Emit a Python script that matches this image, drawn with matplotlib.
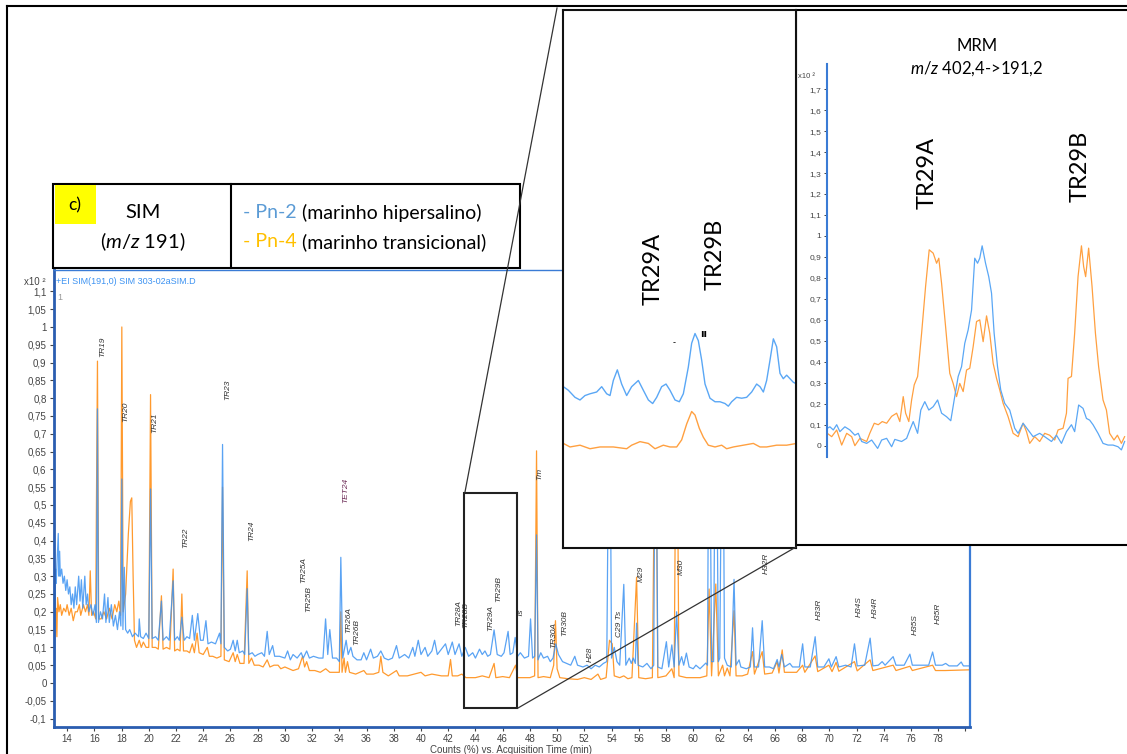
import matplotlib.pyplot as plt
from matplotlib.patches import Rectangle
from matplotlib.lines import Line2D
import numpy as np

plt.rcParams['mathtext.fontset'] = 'custom'
plt.rcParams['mathtext.rm'] = 'Lato'
plt.rcParams['mathtext.it'] = 'Lato:italic'

W, H = 1127, 754
BLUE = '#3d93f2'
ORANGE = '#ff9a2e'

# SIM m/z 191 chromatogram (time in min, counts x10^2)
pn2_sim = [
    (13.08, 0.0), (13.15, 0.32), (13.2, 0.28), (13.25, 0.33), (13.35, 0.42), (13.4, 0.3), (13.45, 0.37),
    (13.5, 0.3), (13.6, 0.32), (13.7, 0.28), (13.8, 0.3), (13.9, 0.26), (14.0, 0.29), (14.1, 0.25),
    (14.2, 0.27), (14.3, 0.22), (14.4, 0.25), (14.5, 0.21), (14.6, 0.27), (14.7, 0.22), (14.85, 0.3),
    (14.95, 0.23), (15.05, 0.29), (15.15, 0.21), (15.3, 0.3), (15.4, 0.22), (15.5, 0.25), (15.6, 0.2),
    (15.75, 0.22), (15.9, 0.19), (16.05, 0.22), (16.15, 0.17), (16.23, 0.77), (16.3, 0.17), (16.45, 0.2),
    (16.6, 0.18), (16.75, 0.25), (16.85, 0.17), (17.0, 0.24), (17.1, 0.17), (17.25, 0.22), (17.4, 0.16),
    (17.55, 0.19), (17.7, 0.15), (17.85, 0.2), (17.95, 0.16), (18.02, 0.573), (18.1, 0.15), (18.2, 0.325),
    (18.3, 0.15), (18.45, 0.14), (18.6, 0.15), (18.8, 0.13), (19.0, 0.14), (19.25, 0.13), (19.3, 0.18),
    (19.4, 0.13), (19.6, 0.125), (19.8, 0.14), (20.0, 0.125), (20.13, 0.545), (20.25, 0.125), (20.5, 0.13),
    (20.7, 0.12), (20.93, 0.23), (21.05, 0.12), (21.3, 0.13), (21.5, 0.12), (21.79, 0.287), (21.9, 0.12),
    (22.1, 0.13), (22.25, 0.12), (22.43, 0.185), (22.6, 0.12), (22.8, 0.13), (23.0, 0.125), (23.2, 0.19),
    (23.35, 0.12), (23.6, 0.195), (23.8, 0.12), (24.0, 0.12), (24.2, 0.175), (24.35, 0.11), (24.6, 0.115),
    (24.9, 0.11), (25.2, 0.14), (25.3, 0.11), (25.42, 0.67), (25.55, 0.1), (25.8, 0.09), (26.0, 0.095),
    (26.2, 0.12), (26.35, 0.09), (26.5, 0.12), (26.65, 0.085), (26.9, 0.09), (27.05, 0.08), (27.23, 0.265),
    (27.35, 0.08), (27.6, 0.085), (27.8, 0.075), (28.0, 0.08), (28.3, 0.085), (28.5, 0.075), (28.7, 0.145),
    (28.85, 0.08), (29.1, 0.105), (29.25, 0.075), (29.6, 0.075), (30.0, 0.07), (30.2, 0.09), (30.4, 0.065),
    (30.6, 0.08), (30.9, 0.07), (31.2, 0.085), (31.35, 0.07), (31.6, 0.09), (31.8, 0.07), (32.1, 0.075),
    (32.5, 0.07), (32.8, 0.07), (32.99, 0.18), (33.15, 0.08), (33.3, 0.15), (33.5, 0.07), (33.8, 0.07),
    (34.0, 0.06), (34.11, 0.353), (34.25, 0.07), (34.5, 0.12), (34.65, 0.08), (34.85, 0.1), (35.0, 0.075),
    (35.3, 0.065), (35.6, 0.065), (35.8, 0.085), (36.0, 0.065), (36.3, 0.095), (36.5, 0.07), (36.8, 0.075),
    (37.05, 0.09), (37.3, 0.07), (37.6, 0.065), (37.9, 0.07), (38.2, 0.105), (38.4, 0.07), (38.8, 0.08),
    (39.1, 0.07), (39.4, 0.1), (39.55, 0.075), (39.8, 0.12), (40.0, 0.08), (40.3, 0.1), (40.5, 0.075),
    (40.8, 0.09), (41.0, 0.12), (41.2, 0.08), (41.5, 0.095), (41.8, 0.11), (42.0, 0.08), (42.3, 0.115),
    (42.5, 0.08), (42.8, 0.11), (43.0, 0.075), (43.25, 0.1), (43.5, 0.075), (43.8, 0.085), (44.0, 0.07),
    (44.3, 0.095), (44.5, 0.08), (44.7, 0.09), (44.9, 0.075), (45.1, 0.08), (45.37, 0.149), (45.6, 0.08),
    (45.9, 0.075), (46.1, 0.085), (46.4, 0.145), (46.55, 0.08), (46.75, 0.085), (46.92, 0.128), (47.1, 0.075),
    (47.3, 0.085), (47.6, 0.07), (47.9, 0.075), (48.05, 0.18), (48.2, 0.07), (48.35, 0.075), (48.49, 0.416),
    (48.6, 0.065), (48.8, 0.085), (49.0, 0.07), (49.3, 0.075), (49.5, 0.06), (49.7, 0.07), (49.9, 0.11),
    (50.1, 0.08), (50.4, 0.06), (50.7, 0.055), (51.0, 0.05), (51.3, 0.075), (51.5, 0.05), (51.9, 0.045),
    (52.2, 0.05), (52.5, 0.04), (52.8, 0.05), (53.1, 0.045), (53.4, 0.055), (53.65, 0.06), (53.85, 1.0),
    (54.0, 0.07), (54.2, 0.1), (54.4, 0.06), (54.6, 0.05), (54.9, 0.277), (55.05, 0.05), (55.3, 0.07),
    (55.45, 0.055), (55.6, 0.07), (55.75, 0.055), (55.84, 0.168), (55.95, 0.05), (56.3, 0.045), (56.6, 0.055),
    (56.9, 0.04), (57.1, 0.05), (57.23, 1.0), (57.4, 0.045), (57.7, 0.04), (58.03, 0.116), (58.2, 0.045),
    (58.43, 0.107), (58.6, 0.045), (58.78, 0.2), (58.95, 0.05), (59.15, 0.074), (59.3, 0.05), (59.5, 0.084),
    (59.7, 0.045), (60.0, 0.04), (60.2, 0.05), (60.5, 0.04), (60.93, 0.056), (61.05, 0.05), (61.17, 1.0),
    (61.35, 0.06), (61.5, 0.06), (61.66, 1.0), (61.85, 0.06), (61.95, 0.07), (62.16, 1.0), (62.3, 0.07),
    (62.5, 0.05), (62.8, 0.045), (63.0, 0.291), (63.15, 0.05), (63.37, 0.065), (63.5, 0.045), (63.9, 0.04),
    (64.2, 0.045), (64.36, 0.155), (64.5, 0.045), (64.8, 0.045), (65.07, 0.175), (65.25, 0.045), (65.6, 0.045),
    (65.9, 0.04), (66.17, 0.066), (66.3, 0.045), (66.5, 0.08), (66.7, 0.045), (67.1, 0.055), (67.3, 0.045),
    (67.8, 0.045), (68.04, 0.11), (68.2, 0.045), (68.6, 0.045), (68.96, 0.13), (69.15, 0.045), (69.6, 0.045),
    (69.97, 0.068), (70.15, 0.045), (70.5, 0.074), (70.7, 0.045), (71.2, 0.05), (71.6, 0.045), (71.85, 0.11),
    (72.05, 0.048), (72.6, 0.05), (73.0, 0.126), (73.2, 0.048), (73.6, 0.05), (73.88, 0.06), (74.1, 0.05),
    (74.69, 0.074), (74.9, 0.05), (75.5, 0.05), (75.92, 0.081), (76.1, 0.05), (76.8, 0.05), (77.3, 0.05),
    (77.59, 0.087), (77.8, 0.05), (78.3, 0.05), (78.55, 0.055), (78.8, 0.048), (79.4, 0.048), (79.69, 0.059),
    (79.85, 0.048), (80.3, 0.048),
]

pn4_sim = [
    (13.1, 0.2), (13.18, 0.21), (13.25, 0.13), (13.3, 0.24), (13.4, 0.2), (13.5, 0.22), (13.6, 0.19),
    (13.75, 0.21), (13.9, 0.2), (14.0, 0.22), (14.15, 0.19), (14.3, 0.21), (14.45, 0.175), (14.6, 0.2),
    (14.75, 0.2), (14.9, 0.22), (15.0, 0.19), (15.2, 0.22), (15.35, 0.2), (15.5, 0.22), (15.6, 0.19),
    (15.7, 0.315), (15.8, 0.19), (15.95, 0.2), (16.1, 0.18), (16.15, 0.48), (16.23, 0.904), (16.32, 0.18),
    (16.5, 0.18), (16.7, 0.2), (16.9, 0.18), (17.1, 0.21), (17.3, 0.18), (17.5, 0.22), (17.65, 0.2),
    (17.8, 0.23), (17.93, 0.19), (18.02, 1.0), (18.12, 0.2), (18.3, 0.25), (18.5, 0.42), (18.65, 0.51),
    (18.75, 0.52), (18.85, 0.3), (18.95, 0.12), (19.1, 0.1), (19.3, 0.12), (19.45, 0.1), (19.6, 0.115),
    (19.8, 0.1), (20.0, 0.1), (20.13, 0.81), (20.25, 0.1), (20.5, 0.1), (20.7, 0.095), (20.93, 0.245),
    (21.05, 0.095), (21.3, 0.1), (21.55, 0.095), (21.79, 0.32), (21.9, 0.09), (22.1, 0.095), (22.3, 0.09),
    (22.43, 0.25), (22.55, 0.09), (22.8, 0.09), (23.0, 0.085), (23.2, 0.11), (23.35, 0.085), (23.55, 0.14),
    (23.7, 0.085), (24.0, 0.08), (24.3, 0.1), (24.45, 0.075), (24.7, 0.075), (25.0, 0.07), (25.3, 0.075),
    (25.42, 0.55), (25.55, 0.065), (25.9, 0.06), (26.2, 0.085), (26.35, 0.06), (26.5, 0.08), (26.7, 0.055),
    (27.0, 0.055), (27.23, 0.315), (27.35, 0.055), (27.55, 0.07), (27.75, 0.05), (28.1, 0.05), (28.4, 0.045),
    (28.7, 0.065), (28.9, 0.045), (29.2, 0.05), (29.5, 0.05), (29.7, 0.04), (30.0, 0.045), (30.3, 0.04),
    (30.6, 0.035), (31.0, 0.04), (31.3, 0.075), (31.45, 0.045), (31.6, 0.06), (31.8, 0.035), (32.2, 0.035),
    (32.6, 0.03), (33.0, 0.04), (33.3, 0.03), (33.8, 0.03), (34.0, 0.03), (34.11, 0.2), (34.2, 0.03),
    (34.35, 0.07), (34.45, 0.03), (34.6, 0.06), (34.75, 0.03), (35.2, 0.025), (35.8, 0.035), (36.0, 0.025),
    (36.5, 0.025), (36.9, 0.03), (37.05, 0.075), (37.2, 0.03), (37.6, 0.02), (38.2, 0.035), (38.4, 0.02),
    (39.0, 0.02), (39.5, 0.025), (40.0, 0.03), (40.3, 0.02), (40.8, 0.025), (41.5, 0.02), (42.0, 0.02),
    (42.17, 0.066), (42.3, 0.02), (42.7, 0.02), (43.0, 0.025), (43.3, 0.015), (44.0, 0.015), (44.5, 0.02),
    (45.0, 0.015), (45.37, 0.055), (45.5, 0.015), (46.0, 0.018), (46.5, 0.015), (46.95, 0.05), (47.1, 0.015),
    (47.6, 0.015), (48.0, 0.015), (48.35, 0.02), (48.49, 0.652), (48.6, 0.015), (49.0, 0.018), (49.5, 0.015),
    (49.75, 0.05), (49.88, 0.175), (50.0, 0.04), (50.2, 0.015), (50.8, 0.012), (51.5, 0.01), (52.0, 0.015),
    (52.5, 0.01), (53.0, 0.025), (53.2, 0.01), (53.6, 0.015), (53.85, 0.12), (54.05, 0.11), (54.2, 0.02),
    (54.6, 0.015), (54.9, 0.02), (55.2, 0.012), (55.5, 0.015), (55.84, 0.297), (56.0, 0.015), (56.5, 0.012),
    (57.0, 0.015), (57.23, 0.9), (57.4, 0.015), (58.0, 0.02), (58.43, 0.04), (58.6, 0.015), (58.78, 1.0),
    (58.95, 0.02), (59.5, 0.015), (60.0, 0.015), (60.5, 0.015), (61.0, 0.02), (61.17, 0.264), (61.35, 0.02),
    (61.66, 0.278), (61.85, 0.02), (62.16, 0.05), (62.3, 0.02), (62.5, 0.042), (62.7, 0.02), (63.0, 0.203),
    (63.15, 0.02), (63.6, 0.02), (64.0, 0.025), (64.36, 0.088), (64.5, 0.025), (65.07, 0.088), (65.25, 0.025),
    (65.8, 0.028), (66.17, 0.06), (66.3, 0.028), (66.54, 0.093), (66.7, 0.03), (67.2, 0.03), (67.6, 0.03),
    (68.04, 0.05), (68.2, 0.03), (68.96, 0.076), (69.15, 0.032), (69.97, 0.05), (70.2, 0.032), (70.5, 0.058),
    (70.7, 0.033), (71.85, 0.06), (72.05, 0.034), (73.0, 0.065), (73.2, 0.035), (74.69, 0.05), (74.9, 0.035),
    (75.92, 0.047), (76.1, 0.035), (77.59, 0.05), (77.8, 0.035), (78.5, 0.035), (80.3, 0.037),
]

# peak labels: name, retention time, label base height
peak_names = ['TR19', 'TR20', 'TR21', 'TR22', 'TR23', 'TR24', 'TR25A', 'TR25B', 'TET24', 'TR26A', 'TR26B',
              'TR28A', 'TR28B', 'TR29A', 'TR29B', 'Ts', 'Tm', 'TR30A', 'TR30B', 'H28', 'C29 Ts', 'M29',
              'M30', 'H32R', 'H33R', 'H34S', 'H34R', 'H35S', 'H35R']
peak_times = [16.6, 18.3, 20.45, 22.7, 25.8, 27.55, 31.4, 31.76, 34.45, 34.72, 35.28,
              42.8, 43.3, 45.1, 45.74, 47.33, 48.7, 49.76, 50.55, 52.46, 54.56, 56.2,
              59.1, 65.4, 69.25, 72.17, 73.35, 76.3, 78.0]
peak_heights = [0.915, 0.734, 0.703, 0.378, 0.795, 0.40, 0.282, 0.199, 0.505, 0.14, 0.107,
                0.16, 0.155, 0.146, 0.228, 0.185, 0.57, 0.097, 0.133, 0.06, 0.128, 0.285,
                0.303, 0.306, 0.177, 0.186, 0.182, 0.135, 0.166]

# enlarged TR29 window (SIM)
pn2_zoom = [
    (43.176, 0.084), (43.259, 0.080), (43.370, 0.072), (43.454, 0.069), (43.537, 0.074), (43.621, 0.076),
    (43.732, 0.078), (43.816, 0.084), (43.899, 0.076), (43.955, 0.074), (44.010, 0.091), (44.077, 0.103),
    (44.149, 0.087), (44.233, 0.074), (44.316, 0.084), (44.428, 0.091), (44.511, 0.080), (44.595, 0.069),
    (44.667, 0.065), (44.734, 0.072), (44.817, 0.084), (44.890, 0.087), (44.956, 0.080), (45.040, 0.069),
    (45.112, 0.067), (45.179, 0.076), (45.262, 0.106), (45.318, 0.133), (45.374, 0.144), (45.429, 0.136),
    (45.485, 0.114), (45.541, 0.087), (45.624, 0.071), (45.708, 0.067), (45.791, 0.067), (45.875, 0.065),
    (45.930, 0.062), (45.986, 0.067), (46.069, 0.072), (46.153, 0.071), (46.236, 0.072), (46.320, 0.078),
    (46.403, 0.087), (46.459, 0.084), (46.515, 0.078), (46.570, 0.091), (46.626, 0.114), (46.682, 0.138),
    (46.737, 0.129), (46.793, 0.099), (46.848, 0.093), (46.904, 0.097), (46.960, 0.093), (47.015, 0.089),
    (47.099, 0.086),
]
pn4_zoom = [
    (43.176, 0.020), (43.287, 0.016), (43.454, 0.018), (43.621, 0.014), (43.788, 0.016), (44.010, 0.016),
    (44.233, 0.014), (44.316, 0.018), (44.456, 0.022), (44.595, 0.020), (44.706, 0.014), (44.845, 0.018),
    (44.956, 0.016), (45.068, 0.016), (45.151, 0.024), (45.235, 0.042), (45.318, 0.056), (45.374, 0.052),
    (45.446, 0.037), (45.513, 0.027), (45.596, 0.018), (45.708, 0.016), (45.819, 0.018), (45.902, 0.014),
    (46.014, 0.016), (46.181, 0.018), (46.348, 0.020), (46.459, 0.016), (46.570, 0.016), (46.737, 0.018),
    (46.904, 0.018), (47.071, 0.020),
]

# MRM m/z 402,4->191,2
pn4_mrm = [
    (44.700, 0.059), (44.722, 0.043), (44.747, 0.075), (44.772, 0.003), (44.797, 0.059), (44.822, 0.043),
    (44.838, 0.0), (44.863, 0.035), (44.897, 0.02), (44.913, 0.06), (44.935, 0.107), (44.955, 0.10),
    (44.975, 0.115), (44.997, 0.107), (45.022, 0.14), (45.047, 0.155), (45.063, 0.115), (45.080, 0.234),
    (45.092, 0.155), (45.108, 0.115), (45.122, 0.218), (45.135, 0.29), (45.152, 0.33), (45.172, 0.536),
    (45.192, 0.76), (45.210, 0.934), (45.230, 0.918), (45.247, 0.87), (45.258, 0.894), (45.272, 0.774),
    (45.292, 0.568), (45.313, 0.345), (45.330, 0.297), (45.347, 0.234), (45.363, 0.297), (45.380, 0.258),
    (45.397, 0.361), (45.413, 0.369), (45.430, 0.472), (45.447, 0.592), (45.463, 0.6), (45.480, 0.496),
    (45.497, 0.619), (45.513, 0.536), (45.530, 0.393), (45.547, 0.321), (45.563, 0.266), (45.580, 0.202),
    (45.605, 0.138), (45.630, 0.059), (45.655, 0.043), (45.680, 0.107), (45.697, 0.067), (45.713, 0.011),
    (45.738, 0.043), (45.763, 0.02), (45.788, 0.059), (45.813, 0.05), (45.838, 0.027), (45.855, 0.075),
    (45.880, 0.083), (45.897, 0.155), (45.905, 0.321), (45.922, 0.33), (45.938, 0.536), (45.955, 0.806),
    (45.972, 0.953), (45.983, 0.854), (45.993, 0.806), (46.008, 0.942), (46.025, 0.76), (46.042, 0.536),
    (46.058, 0.377), (46.080, 0.218), (46.097, 0.17), (46.113, 0.059), (46.135, 0.027), (46.152, 0.05),
    (46.172, 0.011), (46.188, 0.043),
]
pn2_mrm = [
    (44.700, 0.083), (44.713, 0.09), (44.730, 0.075), (44.747, 0.1), (44.763, 0.067), (44.788, 0.09),
    (44.813, 0.075), (44.838, 0.05), (44.855, 0.059), (44.872, 0.02), (44.897, 0.011), (44.922, 0.027),
    (44.952, -0.013), (44.972, 0.027), (44.997, 0.035), (45.022, -0.005), (45.038, 0.03), (45.072, 0.02),
    (45.097, 0.035), (45.113, 0.075), (45.130, 0.115), (45.152, 0.059), (45.168, 0.17), (45.188, 0.21),
    (45.208, 0.17), (45.230, 0.186), (45.252, 0.218), (45.272, 0.155), (45.297, 0.138), (45.318, 0.119),
    (45.335, 0.218), (45.355, 0.33), (45.372, 0.377), (45.388, 0.488), (45.405, 0.552), (45.422, 0.647),
    (45.438, 0.894), (45.452, 0.87), (45.463, 0.894), (45.475, 0.953), (45.492, 0.87), (45.508, 0.806),
    (45.522, 0.727), (45.535, 0.536), (45.552, 0.377), (45.568, 0.266), (45.588, 0.202), (45.613, 0.17),
    (45.638, 0.083), (45.655, 0.059), (45.680, 0.107), (45.705, 0.075), (45.730, 0.043), (45.763, 0.059),
    (45.788, 0.043), (45.822, 0.02), (45.847, 0.05), (45.872, 0.011), (45.897, 0.067), (45.922, 0.1),
    (45.938, 0.067), (45.958, 0.194), (45.980, 0.178), (45.997, 0.13), (46.013, 0.122), (46.030, 0.1),
    (46.055, 0.059), (46.080, 0.011), (46.105, 0.003), (46.130, 0.003), (46.155, -0.005), (46.172, -0.02),
    (46.188, 0.02),
]


def fx(px):
    return px / W


def fy(py):
    return 1 - py / H


def comma(v):
    s = f"{v:.2f}".rstrip('0').rstrip('.')
    if s in ('-0', ''):
        s = '0'
    return s.replace('.', ',')


fig = plt.figure(figsize=(W / 100, H / 100), dpi=100)
fig.patch.set_facecolor('white')
renderer = fig.canvas.get_renderer()

# ---- main SIM chromatogram
ax = fig.add_axes([fx(53.5), fy(727), (969.5 - 53.5) / W, (727 - 270) / H])
ot, oy = zip(*pn4_sim)
bt, by = zip(*pn2_sim)
ax.plot(ot, oy, color=ORANGE, lw=0.9)
ax.plot(bt, by, color=BLUE, lw=0.9, alpha=0.85)
ax.set_xlim(13, 80.3)
ax.set_ylim(-0.1236, 1.16)

xt = np.arange(14, 81, 2)
ax.set_xticks(xt)
ax.set_xticklabels([str(v) if v <= 78 else '' for v in xt])
yt = np.round(np.arange(-0.1, 1.1001, 0.05), 2)
ax.set_yticks(yt)
ax.set_yticklabels([comma(v) for v in yt])
ax.tick_params(labelsize=7, colors='#444444', length=3, width=0.8, pad=2)
for lab in ax.get_xticklabels() + ax.get_yticklabels():
    lab.set_fontfamily('Liberation Sans')
ax.set_xlabel('Counts (%) vs. Acquisition Time (min)', fontsize=7, color='#444444',
              family='Liberation Sans', labelpad=1)
for side, col, lw in [('left', '#2a5db0', 2), ('bottom', '#2a5db0', 2),
                      ('top', '#3a7bd5', 1), ('right', '#3a7bd5', 1.6)]:
    ax.spines[side].set_color(col)
    ax.spines[side].set_linewidth(lw)

for name, t, h in zip(peak_names, peak_times, peak_heights):
    ax.text(t, h, name, rotation=90, ha='center', va='bottom', fontsize=6, style='italic',
            family='Liberation Sans', color='#6b2a55' if name == 'TET24' else '#333333')

ax.add_patch(Rectangle((43.17, -0.071), 3.89, 0.606, fill=False, ec='#222222', lw=1.5, zorder=5))

fig.text(fx(24), fy(282), 'x10 ²', fontsize=7, color='#444444', family='Liberation Sans', va='center')
fig.text(fx(56), fy(281), '+EI SIM(191,0) SIM 303-02aSIM.D', fontsize=6.5, color='#3d93f2',
         family='Liberation Sans', va='center')
fig.text(fx(57), fy(297), '1', fontsize=6.5, color='#999999', family='Liberation Sans', va='center')

# ---- legend box
fig.add_artist(Rectangle((fx(53), fy(268)), (520 - 53) / W, (268 - 184) / H, transform=fig.transFigure,
                         fc='white', ec='black', lw=1.5, zorder=3))
fig.add_artist(Line2D([fx(231), fx(231)], [fy(184), fy(268)], transform=fig.transFigure,
                      color='black', lw=1.5, zorder=3.1))
fig.add_artist(Rectangle((fx(55), fy(224)), 41 / W, 39 / H, transform=fig.transFigure,
                         fc='#ffff00', ec='none', zorder=3.1))
fig.text(fx(75), fy(205), 'c)', fontsize=12.5, family='Lato', ha='center', va='center', zorder=3.2)
fig.text(fx(143), fy(213), 'SIM', fontsize=14.5, family='Lato', ha='center', va='center', zorder=3.2)
fig.text(fx(143), fy(242), r'($\mathit{m/z}$ 191)', fontsize=14.5, family='Lato', ha='center',
         va='center', zorder=3.2)

for row_y, tag, tag_col, rest in [(213, '- Pn-2', '#5b9bd5', ' (marinho hipersalino)'),
                                  (242, '- Pn-4', '#ffc000', ' (marinho transicional)')]:
    t1 = fig.text(fx(243), fy(row_y), tag, fontsize=14, family='Lato', color=tag_col,
                  va='center', zorder=3.2)
    x_end = t1.get_window_extent(renderer).x1 / W
    fig.text(x_end, fy(row_y), rest, fontsize=14, family='Lato', va='center', zorder=3.2)

# ---- enlarged TR29 window
axm = fig.add_axes([fx(563), fy(548), (796 - 563) / W, (548 - 10) / H])
axm.set_zorder(2)
axm.set_facecolor('white')
zt, zy = zip(*pn4_zoom)
axm.plot(zt, zy, color='#ffa040', lw=1.0)
zt, zy = zip(*pn2_zoom)
axm.plot(zt, zy, color='#5aa7f5', lw=1.0)
axm.set_xlim(43.17, 47.06)
axm.set_ylim(-0.098, 0.509)
axm.set_xticks([])
axm.set_yticks([])
for sp in axm.spines.values():
    sp.set_color('#111111')
    sp.set_linewidth(1.5)
axm.text(44.67, 0.217, 'TR29A', rotation=90, fontsize=17, family='Lato', ha='center', va='center')
axm.text(45.71, 0.233, 'TR29B', rotation=90, fontsize=17, family='Lato', ha='center', va='center')
axm.text(45.02, 0.134, '-', fontsize=6, ha='center', va='center')
axm.text(45.51, 0.143, 'ıı', fontsize=7, fontweight='bold', ha='center', va='center')

# ---- MRM box
fig.add_artist(Rectangle((fx(796), fy(545)), (1140 - 796) / W, (545 - 10) / H, transform=fig.transFigure,
                         fc='white', ec='black', lw=1.5, zorder=1.5))
axr = fig.add_axes([fx(827.3), fy(456.7), (1127 - 827.3) / W, (456.7 - 64) / H])
axr.set_zorder(2.5)
axr.patch.set_visible(False)
rt, ry = zip(*pn4_mrm)
axr.plot(rt, ry, color='#ffa040', lw=0.9)
rt, ry = zip(*pn2_mrm)
axr.plot(rt, ry, color='#5aa7f5', lw=0.9)
axr.set_xlim(44.70, 46.20)
axr.set_ylim(-0.0525, 1.82)
for side in ['top', 'right', 'bottom']:
    axr.spines[side].set_visible(False)
axr.spines['left'].set_color('#3a7bd5')
axr.spines['left'].set_linewidth(1.5)
axr.set_xticks([])
mt = np.round(np.arange(0, 1.7001, 0.1), 1)
axr.set_yticks(mt)
axr.set_yticklabels([comma(v) for v in mt])
axr.tick_params(axis='y', labelsize=6, colors='#444444', length=2.5, width=0.7, pad=2)
for lab in axr.get_yticklabels():
    lab.set_fontfamily('Liberation Sans')
axr.text(45.2, 1.30, 'TR29A', rotation=90, fontsize=17, family='Lato', ha='center', va='center')
axr.text(45.965, 1.33, 'TR29B', rotation=90, fontsize=17, family='Lato', ha='center', va='center')
fig.text(fx(798), fy(76), 'x10 ²', fontsize=5.5, color='#444444', family='Liberation Sans',
         va='center', zorder=3)
fig.text(fx(977), fy(46), 'MRM', fontsize=12, family='Lato', ha='center', va='center', zorder=3)
fig.text(fx(977), fy(69), r'$\mathit{m/z}$ 402,4->191,2', fontsize=12, family='Lato',
         ha='center', va='center', zorder=3)

# ---- connector lines and outer frame
fig.add_artist(Line2D([fx(465), fx(557)], [fy(492), fy(8)], transform=fig.transFigure,
                      color='#333333', lw=0.9, zorder=4))
fig.add_artist(Line2D([fx(518), fx(796)], [fy(708), fy(547)], transform=fig.transFigure,
                      color='#333333', lw=0.9, zorder=4))
fig.add_artist(Line2D([fx(7), fx(7)], [fy(6), fy(754)], transform=fig.transFigure,
                      color='black', lw=1.5, zorder=4))
fig.add_artist(Line2D([fx(7), fx(1127)], [fy(6), fy(6)], transform=fig.transFigure,
                      color='black', lw=1.5, zorder=4))

fig.savefig('out.png', dpi=100)
